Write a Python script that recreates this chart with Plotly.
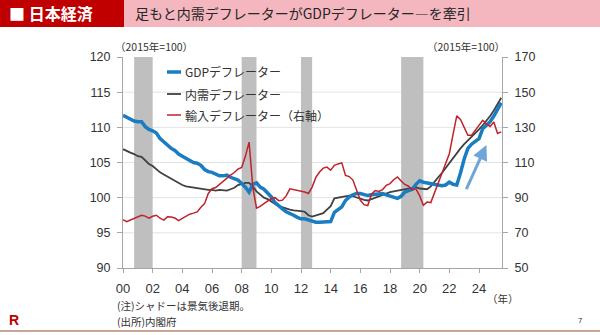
import plotly.graph_objects as go

# Quarterly series, 2000Q1 onward (2015 = 100)
start_year = 2000
gdp_deflator = [
    111.7, 111.4, 111.1, 110.9, 110.8, 110.8, 110.1, 109.7, 109.5, 109.2,
    108.4, 107.9, 107.5, 107.0, 106.7, 106.2, 105.9, 105.6, 105.3, 105.0,
    104.9, 104.6, 104.0, 103.7, 103.6, 103.3, 103.1, 103.1, 103.2, 102.9,
    102.7, 102.5, 102.0, 101.5, 100.8, 101.9, 102.1, 101.5, 101.2, 100.6,
    100.1, 99.3, 98.8, 98.4, 98.0, 97.8, 97.5, 97.2, 97.0, 97.0,
    96.8, 96.6, 96.5, 96.5, 96.5, 96.5, 96.6, 97.9, 98.3, 98.7,
    99.6, 100.1, 100.4, 100.6, 100.6, 100.5, 100.3, 100.4, 100.5, 100.6,
    100.6, 100.4, 100.2, 100.0, 99.9, 100.2, 100.8, 101.0, 101.2, 101.9,
    102.4, 102.2, 102.1, 102.0, 102.0, 101.9, 101.7, 101.8, 102.2, 101.9,
    101.8, 103.5, 105.5, 107.0, 107.6, 108.0, 108.4, 109.8, 110.3, 110.8,
    111.6, 112.6, 113.5,
]
domestic_deflator = [
    106.9, 106.6, 106.4, 106.2, 105.9, 105.8, 105.3, 104.8, 104.5, 104.0,
    103.6, 103.3, 103.0, 102.7, 102.3, 102.0, 101.8, 101.6, 101.5, 101.4,
    101.3, 101.2, 101.2, 101.1, 101.1, 101.0, 101.1, 101.0, 101.0, 101.2,
    101.4, 101.8, 102.0, 102.1, 102.1, 101.6, 100.9, 100.4, 100.0, 99.8,
    99.4, 99.1, 98.8, 98.6, 98.4, 98.3, 98.2, 98.2, 98.1, 98.0,
    97.5, 97.3, 97.5, 97.6, 97.8, 98.3, 98.8, 99.9, 100.0, 100.1,
    100.2, 100.3, 100.2, 100.0, 99.8, 99.7, 99.6, 99.8, 100.0, 100.3,
    100.5, 100.7, 100.8, 100.9, 101.0, 101.1, 101.2, 101.3, 101.4, 101.5,
    101.3, 101.2, 101.2, 101.6, 102.3, 102.9, 103.5, 104.2, 104.9, 105.7,
    106.4, 107.0, 107.6, 108.1, 108.6, 109.2, 109.7, 110.3, 110.9, 111.6,
    112.4, 113.3, 114.2,
]
import_deflator = [
    77.5, 76.3, 77.3, 78.1, 79.2, 80.0, 79.5, 78.4, 79.4, 80.0,
    78.3, 77.2, 79.1, 79.0, 78.4, 77.0, 78.2, 79.4, 80.6, 81.2,
    81.9, 84.5, 86.6, 92.4, 95.1, 95.8, 97.6, 99.2, 101.4, 102.8,
    104.3, 106.2, 107.2, 113.5, 121.6, 96.0, 84.0, 85.0, 86.6, 88.2,
    89.5, 90.0, 88.3, 88.6, 91.0, 95.0, 94.6, 94.2, 93.8, 93.2,
    92.4, 96.0, 101.5, 104.6, 106.8, 107.4, 105.6, 108.4, 109.2, 109.8,
    102.7, 102.0, 100.0, 94.2, 88.5, 86.0, 85.5, 92.0, 94.0, 93.5,
    94.6, 97.0, 98.0, 100.2, 101.8, 99.5, 97.5, 96.5, 94.5, 95.0,
    91.0, 85.7, 87.5, 87.2, 93.0, 98.0, 104.0, 109.5, 115.0, 126.0,
    136.5, 134.5, 129.5, 125.5, 125.5, 128.5, 131.5, 134.0, 132.0, 130.5,
    133.0, 126.5, 127.4,
]

# Recession periods (start, end) in fractional years
recessions = [(2000.75, 2002.0), (2008.0, 2009.0), (2012.0, 2012.75), (2018.75, 2020.25)]

left_ticks = [90, 95, 100, 105, 110, 115, 120]
right_ticks = [50, 70, 90, 110, 130, 150, 170]
year_ticks = list(range(2000, 2025, 2))
year_labels = ["00", "02", "04", "06", "08", "10", "12", "14", "16", "18", "20", "22", "24"]

series_names = ["GDPデフレーター", "内需デフレーター", "輸入デフレーター（右軸）"]
series_colors = ["#1a7cc1", "#404040", "#c0222b"]

title_tag = "■ 日本経済"
title_text = "足もと内需デフレーターがGDPデフレーター―を牽引"
unit_label = "（2015年=100）"
note_lines = ["(注)シャドーは景気後退期。", "(出所)内閣府"]

# Arrow highlighting the recent rise (tail -> head, data coords)
arrow_tail = (2023.1, 101.0)
arrow_head = (2024.5, 107.5)

quarters = [start_year + i / 4 for i in range(len(gdp_deflator))]

W, H = 600, 335
L, R, T, B = 123, 502, 57, 268
JP = "Noto Sans CJK JP"
NUM = "Liberation Sans, Arial, Noto Sans CJK JP"
TXT = "#333333"
AXC = "#a6a6a6"


def fx(p):
    return (p - L) / (R - L)


def fy(p):
    return (B - p) / (B - T)


fig = go.Figure()
fig.add_trace(go.Scatter(x=quarters, y=import_deflator, yaxis="y2", mode="lines",
                         line=dict(color=series_colors[2], width=1.5), name=series_names[2]))
fig.add_trace(go.Scatter(x=quarters, y=domestic_deflator, mode="lines",
                         line=dict(color=series_colors[1], width=1.8), name=series_names[1]))
fig.add_trace(go.Scatter(x=quarters, y=gdp_deflator, mode="lines",
                         line=dict(color=series_colors[0], width=3.5), name=series_names[0]))

shapes = []
# horizontal gridlines
for v in left_ticks[1:-1]:
    shapes.append(dict(type="line", xref="paper", yref="y", x0=0, x1=1, y0=v, y1=v,
                       line=dict(color="#e3e3e3", width=1), layer="below"))
# recession shading
for a, b in recessions:
    shapes.append(dict(type="rect", xref="x", yref="paper", x0=a, x1=b, y0=0, y1=1,
                       fillcolor="#bfbfbf", line=dict(width=0), layer="below"))
# header bar
shapes.append(dict(type="rect", xref="paper", yref="paper", x0=fx(0), x1=fx(600), y0=fy(0), y1=fy(27),
                   fillcolor="#f4b7bf", line=dict(width=0)))
shapes.append(dict(type="rect", xref="paper", yref="paper", x0=fx(0), x1=fx(124), y0=fy(0), y1=fy(27),
                   fillcolor="#c00000", line=dict(width=0)))
# footer rule
shapes.append(dict(type="line", xref="paper", yref="paper", x0=fx(0), x1=fx(600), y0=fy(331), y1=fy(331),
                   line=dict(color="#c9a59a", width=2)))
# legend samples
legend_rows = [72, 94, 115]
legend_widths = [3.5, 1.8, 1.5]
for yy, c, w in zip(legend_rows, series_colors, legend_widths):
    shapes.append(dict(type="line", xref="paper", yref="paper", x0=fx(167), x1=fx(181), y0=fy(yy), y1=fy(yy),
                       line=dict(color=c, width=w)))

annotations = []
for yy, name in zip(legend_rows, series_names):
    annotations.append(dict(xref="paper", yref="paper", x=fx(183), y=fy(yy), text=name, showarrow=False,
                            xanchor="left", yanchor="middle", font=dict(family=JP, size=12, color=TXT)))
annotations += [
    dict(xref="paper", yref="paper", x=fx(7), y=fy(13.5), text=title_tag, showarrow=False,
         xanchor="left", yanchor="middle", font=dict(family=JP, size=16, color="white", weight="bold")),
    dict(xref="paper", yref="paper", x=fx(133), y=fy(13.5), text=title_text, showarrow=False,
         xanchor="left", yanchor="middle", font=dict(family=JP, size=14, color="#262626")),
    dict(xref="paper", yref="paper", x=fx(113), y=fy(47), text=unit_label, showarrow=False,
         xanchor="left", yanchor="middle", font=dict(family=JP, size=10.5, color=TXT)),
    dict(xref="paper", yref="paper", x=fx(507), y=fy(47), text=unit_label, showarrow=False,
         xanchor="right", yanchor="middle", font=dict(family=JP, size=10.5, color=TXT)),
    dict(xref="paper", yref="paper", x=fx(503), y=fy(298), text="（年）", showarrow=False,
         xanchor="center", yanchor="middle", font=dict(family=JP, size=10.5, color=TXT)),
    dict(xref="paper", yref="paper", x=fx(115), y=fy(305), text=note_lines[0], showarrow=False,
         xanchor="left", yanchor="middle", font=dict(family=JP, size=10.5, color=TXT)),
    dict(xref="paper", yref="paper", x=fx(115), y=fy(321), text=note_lines[1], showarrow=False,
         xanchor="left", yanchor="middle", font=dict(family=JP, size=10.5, color=TXT)),
    dict(xref="paper", yref="paper", x=fx(7), y=fy(320), text="<b>R</b>", showarrow=False,
         xanchor="left", yanchor="middle", font=dict(family="Liberation Sans", size=14, color="#bf0000")),
    dict(xref="paper", yref="paper", x=fx(580), y=fy(320), text="7", showarrow=False,
         xanchor="center", yanchor="middle", font=dict(family="Liberation Sans", size=8, color=TXT)),
    dict(xref="x", yref="y", axref="x", ayref="y", x=arrow_head[0], y=arrow_head[1],
         ax=arrow_tail[0], ay=arrow_tail[1], text="", showarrow=True, arrowhead=2,
         arrowsize=1, arrowwidth=3, arrowcolor="#6fa6d8"),
]

fig.update_layout(
    width=W, height=H,
    margin=dict(l=L, r=W - R, t=T, b=H - B, pad=0),
    paper_bgcolor="white", plot_bgcolor="rgba(0,0,0,0)",
    showlegend=False,
    shapes=shapes, annotations=annotations,
    xaxis=dict(range=[2000, 2025.55], tickvals=year_ticks, ticktext=year_labels,
               showline=True, linecolor=AXC, linewidth=1, ticks="outside", ticklen=4, tickcolor=AXC,
               showgrid=False, zeroline=False, ticklabelstandoff=4,
               tickfont=dict(family=NUM, size=13, color=TXT)),
    yaxis=dict(range=[90, 120], tickvals=left_ticks, showline=True, linecolor=AXC, linewidth=1,
               ticks="outside", ticklen=5, tickcolor=AXC, showgrid=False, zeroline=False,
               ticklabelstandoff=4, tickfont=dict(family=NUM, size=12.5, color=TXT)),
    yaxis2=dict(range=[50, 170], tickvals=right_ticks, overlaying="y", side="right",
                showline=True, linecolor=AXC, linewidth=1, ticks="outside", ticklen=5, tickcolor=AXC,
                showgrid=False, zeroline=False, ticklabelstandoff=4,
                tickfont=dict(family=NUM, size=12.5, color=TXT)),
)

fig.write_html("out.html")
